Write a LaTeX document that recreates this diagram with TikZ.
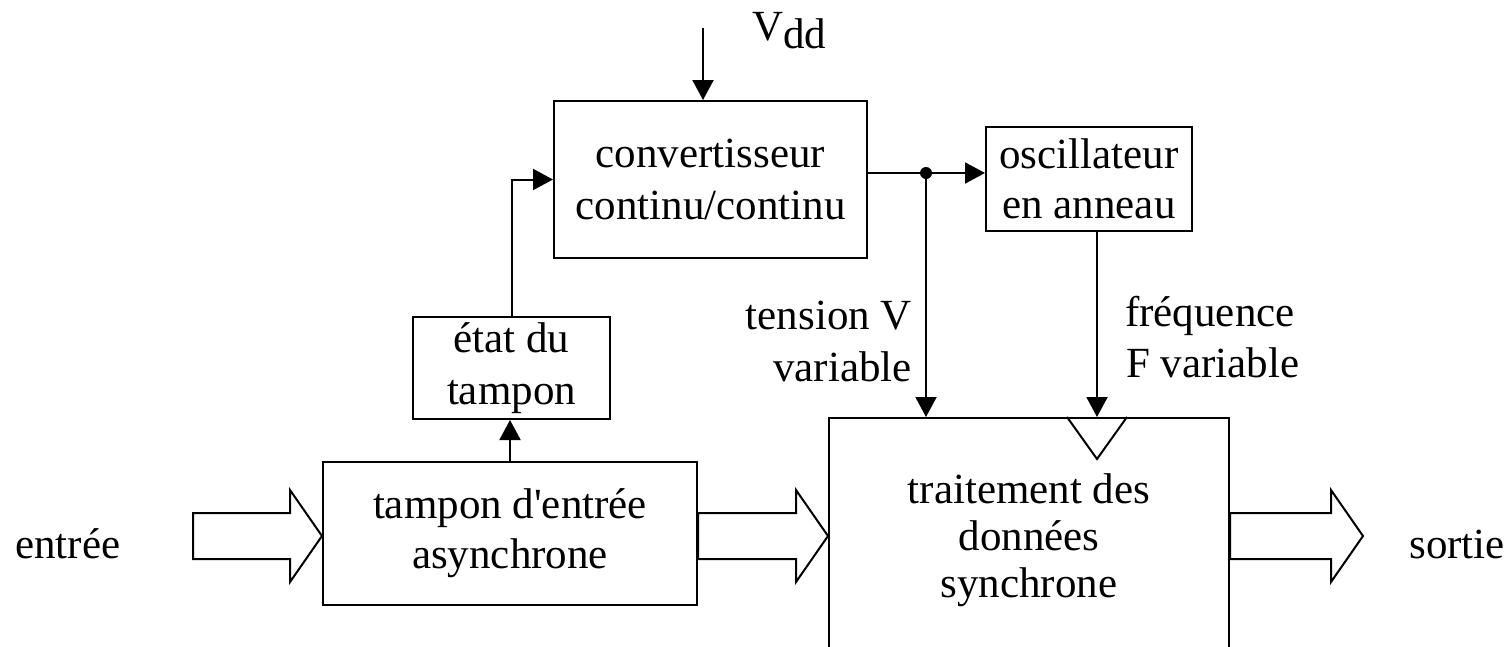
\documentclass[tikz,border=0pt]{standalone}
\usepackage{fontspec}
\setmainfont{Liberation Serif}[Ligatures=TeXOff]
\usetikzlibrary{arrows.meta,calc}
\tikzset{
  every node/.style={font=\fontsize{43}{50}\selectfont, inner sep=0pt},
  blk/.style={draw, line width=2pt, align=center},
  arr/.style={line width=2pt, -{Triangle[length=20pt,width=21pt]}},
  ln/.style={line width=2pt},
  fat/.style={draw, line width=2pt, line join=miter},
}
\newcommand\fatarrow[2]{%
  \draw[fat] ($#1+(0,-23)$) -- ($#2+(-32,-23)$) -- ($#2+(-32,-46)$) -- #2
    -- ($#2+(-32,46)$) -- ($#2+(-32,23)$) -- ($#1+(0,23)$) -- cycle;}
\begin{document}
\begin{tikzpicture}[x=1pt,y=-1pt]
\useasboundingbox (0,0) rectangle (1510,646);
% boxes
\node[blk, minimum width=313pt, minimum height=157pt] (conv) at (710.5,179.5)
  {convertisseur\\[2pt]continu/continu};
\node[blk, minimum width=206pt, minimum height=104pt] (osc) at (1089,179)
  {oscillateur\\en anneau};
\node[blk, minimum width=197pt, minimum height=102pt] (etat) at (511.5,368)
  {état du\\[2pt]tampon};
\node[blk, minimum width=374pt, minimum height=143pt] (tamp) at (510,533.5)
  {tampon d'entrée\\asynchrone};
\node[blk, minimum width=400pt, minimum height=244pt] (trait) at (1029,540)
  {traitement des\\[-3pt]données\\[-3pt]synchrone};
% labels
\node[anchor=base west] (vdd) at (752,40) {V\raisebox{-8pt}{dd}};
\node[anchor=base west] (ent) at (15,558) {entrée};
\node[anchor=base east] (sor) at (1505,558) {sortie};
\node[anchor=base east] (ten1) at (912,329) {tension V};
\node[anchor=base east] (ten2) at (912,381) {variable};
\node[anchor=base west] (fr1) at (1125,326) {fréquence};
\node[anchor=base west] (fr2) at (1126,377) {F variable};
% connectors
\coordinate (vtop) at (703,28);
\draw[arr] (vtop) -- (vtop |- conv.north);
\draw[arr] (etat.north) |- (conv.west);
\draw[arr] (tamp.north) -- (tamp.north |- etat.south);
\coordinate (j) at (926,173);
\draw[arr] (j -| conv.east) -- (j -| osc.west);
\fill (j) circle (6pt);
\draw[arr] (j) -- (j |- trait.north);
\coordinate (ck) at (1097,0);
\draw[arr] (ck |- osc.south) -- (ck |- trait.north);
\draw[ln, line join=miter] ($(ck |- trait.north)+(-30,0)$) -- ($(ck |- trait.north)+(0,42)$) -- ($(ck |- trait.north)+(30,0)$);
% block arrows
\coordinate (fa) at (0,536);
\coordinate (s1) at (193,536);
\coordinate (t3) at (1363,536);
\fatarrow{(s1)}{(tamp.west |- fa)}
\fatarrow{(tamp.east |- fa)}{(trait.west |- fa)}
\fatarrow{(trait.east |- fa)}{(t3)}
\end{tikzpicture}
\end{document}
